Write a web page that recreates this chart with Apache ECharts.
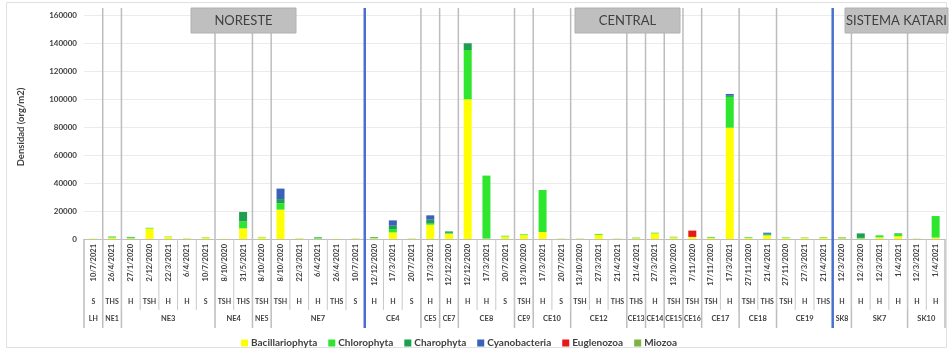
<!DOCTYPE html>
<html><head><meta charset="utf-8">
<script src="https://cdn.jsdelivr.net/npm/echarts@6/dist/echarts.min.js"></script>
<style>html,body{margin:0;padding:0;background:#fff}#c{width:952px;height:350px}</style>
</head><body><div id="c"></div>
<script>
const dates = ['10/7/2021','26/4/2021','27/1/2020','2/12/2020','22/3/2021','6/4/2021','10/7/2021','8/10/2020','31/5/2021','8/10/2020','8/10/2020','22/3/2021','6/4/2021','26/4/2021','10/7/2021','12/12/2020','17/3/2021','20/7/2021','17/3/2021','12/12/2020','12/12/2020','17/3/2021','20/7/2021','13/10/2020','17/3/2021','20/7/2021','13/10/2020','27/3/2021','21/4/2021','21/4/2021','27/3/2021','13/10/2020','7/11/2020','17/11/2020','17/3/2021','27/11/2020','21/4/2021','27/11/2020','27/3/2021','21/4/2021','12/3/2020','12/3/2020','12/3/2021','1/4/2021','12/3/2021','1/4/2021'];
const codes = ['S','THS','H','TSH','H','H','S','TSH','THS','TSH','TSH','H','H','THS','S','H','H','S','H','H','H','H','S','TSH','H','S','TSH','H','THS','THS','H','TSH','TSH','TSH','H','TSH','THS','TSH','H','THS','H','H','H','H','H','H'];
const siteNames = ['LH','NE1','NE3','NE4','NE5','NE7','CE4','CE5','CE7','CE8','CE9','CE10','CE12','CE13','CE14','CE15','CE16','CE17','CE18','CE19','SK8','SK7','SK10'];
const siteSizes = [1,1,5,2,1,5,3,1,1,3,1,2,3,1,1,1,1,2,2,3,1,3,2];
const regionNames = ['NORESTE','CENTRAL','SISTEMA KATARI'];
const regionEnds = [15, 40, 46];
const seriesNames = ['Bacillariophyta','Chlorophyta','Charophyta','Cyanobacteria','Euglenozoa','Miozoa'];
const yTicks = [0,20000,40000,60000,80000,100000,120000,140000,160000];

const bac   = [300,1000,500,7500,1400,400,900,200,7600,1200, 21000,400,300,200,300, 500,4700,300,10200,3800, 99800,300,1800,2800,5000, 200,200,3000,200,600, 4000,1200,1500,800,79500, 800,2500,700,800,1000, 500,300,1200,2000,200,1000];
const chl   = [0,800,700,500,300,100,300,0,5000,300, 4500,100,600,0,100, 200,2400,100,800,600, 35200,45000,500,500,30000, 100,100,600,100,400, 500,400,0,500,22000, 500,600,400,300,400, 200,500,1400,1500,100,15400];
const charo = [0,0,300,0,0,0,0,0,6700,0, 3000,0,400,0,0, 500,2400,0,2800,1000, 4800,0,0,0,0, 0,0,0,0,0, 0,0,0,0,800, 0,600,0,0,0, 200,3200,0,500,0,0];
const cyano = [0,0,0,0,0,0,0,0,0,0, 7500,0,0,0,0, 0,3800,0,3100,0, 0,0,0,0,0, 0,0,0,0,0, 0,0,0,0,1300, 0,800,0,0,0, 0,0,0,0,0,0];
const eug   = [0,0,0,0,0,0,0,0,0,0, 0,0,0,0,0, 0,0,0,0,0, 0,0,0,0,0, 0,0,0,0,0, 0,0,4500,0,0, 0,0,0,0,0, 0,0,0,0,0,0];
const mio   = [0,0,0,0,0,0,0,0,0,0, 0,0,0,0,0, 0,0,0,0,0, 0,0,0,0,0, 0,0,0,0,0, 0,0,0,200,0, 0,0,0,0,0, 300,0,0,0,0,0];

const colors = ['#ffff00','#2ee62e','#1e9e4e','#3a62b8','#e81818','#7cb342'];
const values = [bac, chl, charo, cyano, eug, mio];
const FONT = 'Lato, "Noto Sans", sans-serif';

const chart = echarts.init(document.getElementById('c'), null, {renderer:'canvas'});
const option = {
  animation:false,
  grid:{left:84, right:7, top:15, bottom:111},
  legend:{
    left:236, top:333, itemWidth:7, itemHeight:7, itemGap:11,
    icon:'rect',
    textStyle:{fontFamily:FONT, fontSize:10, fontWeight:'bold', color:'#404040', padding:[0,0,0,-2]},
    data:seriesNames
  },
  xAxis:[{
    type:'category',
    data:dates.map((d,i)=>String(i)),
    axisLine:{lineStyle:{color:'#bfbfbf', width:1}},
    axisTick:{show:false},
    axisLabel:{interval:0, rotate:90, margin:5, fontFamily:FONT, fontSize:7.5, fontWeight:'bold', color:'#404040',
      formatter:(v)=>dates[+v]}
  }],
  yAxis:{
    type:'value', min:yTicks[0], max:yTicks[yTicks.length-1], interval:20000,
    name:'Densidad (org/m2)', nameLocation:'middle', nameRotate:90, nameGap:58,
    nameTextStyle:{fontFamily:FONT, fontSize:9.5, fontWeight:'bold', color:'#404040'},
    axisLine:{show:false}, axisTick:{show:false},
    axisLabel:{margin:7, fontFamily:FONT, fontSize:8, fontWeight:'bold', color:'#404040', formatter:(v)=>String(v)},
    splitLine:{lineStyle:{color:'#ebebeb', width:1}}
  },
  series: seriesNames.map((n,k)=>({
    name:n, type:'bar', stack:'a', barWidth:8,
    itemStyle:{color:colors[k]},
    data:values[k]
  }))
};
chart.setOption(option);

// table / separators built from the category scale
const c0 = chart.convertToPixel({xAxisIndex:0}, 0);
const c1 = chart.convertToPixel({xAxisIndex:0}, 1);
const bw = c1 - c0;
const bx = i => c0 + (i - 0.5) * bw;
const g = [];
const axisY = chart.convertToPixel({yAxisIndex:0}, 0);
for (let i = 1; i < dates.length; i++) {
  g.push({type:'line', shape:{x1:bx(i), y1:axisY, x2:bx(i), y2:310}, style:{stroke:'#c8c8c8', lineWidth:1}, z:5});
}
codes.forEach((c,i)=>{
  g.push({type:'text', x:c0 + i*bw, y:302, style:{text:c, font:'bold 7px '+FONT, fill:'#404040', align:'center', verticalAlign:'middle'}, z:6});
});
let acc = 0;
const regionBounds = regionEnds.slice(0, -1);
siteNames.forEach((s,k)=>{
  const start = acc, end = acc + siteSizes[k];
  const cx = (bx(start) + bx(end)) / 2;
  const fs = siteSizes[k] === 1 ? 7 : 7.5;
  g.push({type:'text', x:cx, y:319, style:{text:s, font:'bold '+fs+'px '+FONT, fill:'#404040', align:'center', verticalAlign:'middle'}, z:6});
  acc = end;
  if (end < dates.length) {
    const isRegion = regionBounds.indexOf(end) >= 0;
    g.push({type:'line', shape:{x1:bx(end), y1:8, x2:bx(end), y2:328},
      style:{stroke:isRegion ? '#4a6fd0' : '#bdbdbd', lineWidth:isRegion ? 2.5 : 1.5}, z:isRegion?7:4});
  }
});
g.push({type:'line', shape:{x1:bx(0), y1:axisY, x2:bx(0), y2:328}, style:{stroke:'#bdbdbd', lineWidth:1.5}, z:4});
g.push({type:'line', shape:{x1:bx(dates.length), y1:axisY, x2:bx(dates.length), y2:328}, style:{stroke:'#bdbdbd', lineWidth:1.5}, z:4});
const boxes = [[191,105],[575,105],[845,103]];
regionNames.forEach((r,k)=>{
  g.push({type:'rect', shape:{x:boxes[k][0], y:8, width:boxes[k][1], height:25}, style:{fill:'#bfbfbf', stroke:'#b0b0b0', lineWidth:1}, z:8});
  g.push({type:'text', x:boxes[k][0]+boxes[k][1]/2, y:21, style:{text:r, font:'13px '+FONT, fill:'#404040', align:'center', verticalAlign:'middle'}, z:9});
});
g.push({type:'rect', shape:{x:6.5, y:2.5, width:940, height:345}, style:{fill:'none', stroke:'#e0e0e0', lineWidth:1}, z:1});
chart.setOption({graphic:g});
</script>
</body></html>
